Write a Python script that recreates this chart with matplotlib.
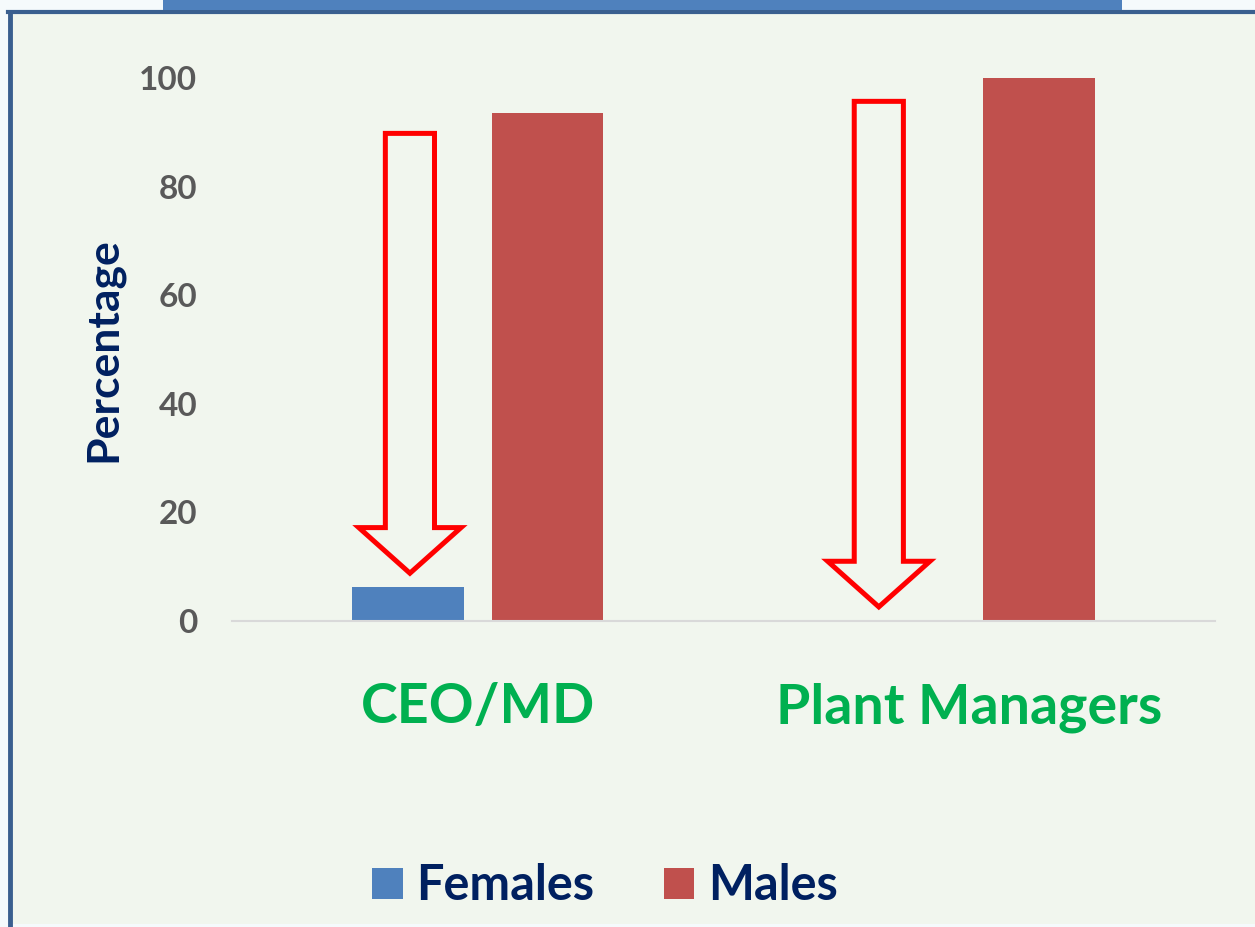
import matplotlib as mpl
mpl.use('Agg')
import matplotlib.pyplot as plt
from matplotlib.patches import Rectangle, Polygon
import numpy as np

plt.rcParams['font.family'] = ['Lato', 'DejaVu Sans']
plt.rcParams['font.weight'] = 'bold'

# data
categories = ['CEO/MD', 'Plant Managers']
females = [6.3, 0.0]
males = [93.5, 100.0]
yticks = [0, 20, 40, 60, 80, 100]

# red hollow arrows (x in category units, top and tip in percent)
arrow_x = [-0.138, 0.816]
arrow_top = [89.8, 95.7]
arrow_tip = [8.8, 2.6]

W, H = 1255, 927
fig = plt.figure(figsize=(W / 100, H / 100), dpi=100, facecolor='#F5FAFC')

# slide panel and border
fig.patches.append(Rectangle((10 / W, 3 / H), 1 - 10 / W, 1 - 15 / H, transform=fig.transFigure,
                             facecolor='#F1F6EE', edgecolor='none', zorder=-10))
fig.add_artist(plt.Line2D([10 / W, 10 / W], [0, 1 - 12 / H], color='#3A5F8F', lw=3.5,
                          transform=fig.transFigure, zorder=-5))
fig.add_artist(plt.Line2D([8 / W, 1], [1 - 12 / H, 1 - 12 / H], color='#3A5F8F', lw=3.0,
                          transform=fig.transFigure, zorder=-5))
fig.patches.append(Rectangle((163 / W, 1 - 10 / H), (1122 - 163) / W, 10 / H, transform=fig.transFigure,
                             facecolor='#4F81BD', edgecolor='none', zorder=-4))

ax = fig.add_axes([232 / W, 1 - 621 / H, (1215 - 232) / W, (621 - 78) / H])
ax.set_facecolor('none')

x = np.arange(len(categories))
bw = 0.2265
off = 0.142
ax.bar(x - off, females, bw, color='#4F81BD', label='Females', zorder=2)
ax.bar(x + off, males, bw, color='#C0504D', label='Males', zorder=2)

sw, hw, hl = 0.05, 0.104, 8.4
for cx, top, tip in zip(arrow_x, arrow_top, arrow_tip):
    base = tip + hl
    pts = [(cx - sw, top), (cx + sw, top), (cx + sw, base), (cx + hw, base),
           (cx, tip), (cx - hw, base), (cx - sw, base)]
    ax.add_patch(Polygon(pts, closed=True, facecolor='none', edgecolor='#FF0000',
                         lw=3.6, joinstyle='miter', zorder=3, clip_on=False))

ax.set_xlim(-0.5, 1.5)
ax.set_ylim(0, 100)
ax.set_yticks(yticks)
ax.set_yticklabels([str(v) for v in yticks], fontsize=24, fontweight='bold', color='#595959')
ax.set_xticks(x)
ax.set_xticklabels(categories, fontsize=40, fontweight='bold', color='#00B050')
ax.tick_params(axis='y', length=0, pad=25)
ax.tick_params(axis='x', length=0, pad=44)

for s in ['top', 'right', 'left']:
    ax.spines[s].set_visible(False)
ax.spines['bottom'].set_color('#D9D9D9')
ax.spines['bottom'].set_linewidth(1.5)

ax.set_ylabel('Percentage', fontsize=32, fontweight='bold', color='#002060')
ax.yaxis.set_label_coords(-0.111, 0.5)

fig.legend(loc='center', bbox_to_anchor=(605 / W, 1 - 886 / H), ncol=2, frameon=False,
           fontsize=35, handlelength=0.62, handleheight=0.62, handletextpad=0.29,
           columnspacing=1.42, labelcolor='#002060')

plt.savefig('out.png', dpi=100, facecolor=fig.get_facecolor())
plt.close()
